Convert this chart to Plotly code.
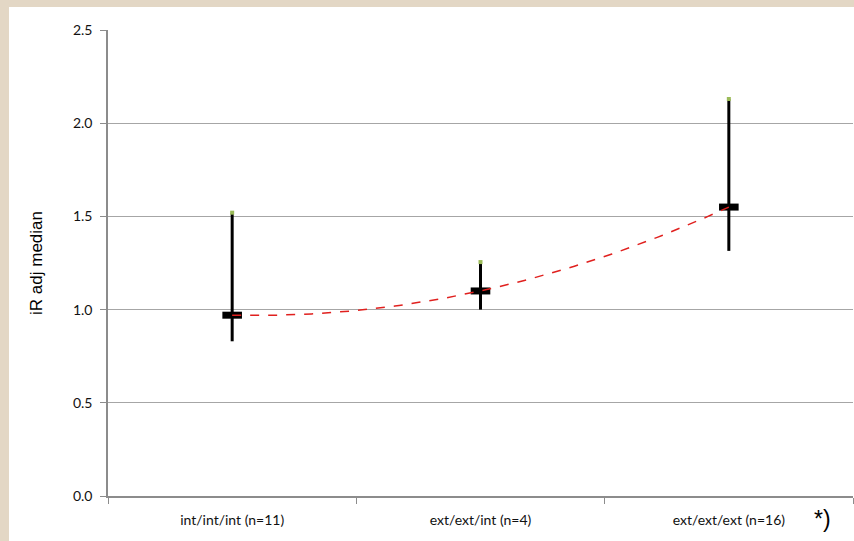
import numpy as np
import plotly.graph_objects as go

# Group medians with their ranges
groups = ["int/int/int (n=11)", "ext/ext/int (n=4)", "ext/ext/ext (n=16)"]
median = [0.97, 1.10, 1.55]
upper = [1.52, 1.255, 2.13]
lower = [0.83, 1.00, 1.315]
y_ticks = [0.0, 0.5, 1.0, 1.5, 2.0, 2.5]

pos = np.arange(len(groups))

fig = go.Figure()

# Vertical range bars
for i, g in enumerate(groups):
    fig.add_trace(go.Scatter(
        x=[g, g], y=[lower[i], upper[i]], mode="lines",
        line=dict(color="black", width=3), showlegend=False, hoverinfo="skip"))

# Small end marks at the top of each range
fig.add_trace(go.Scatter(
    x=groups, y=upper, mode="markers",
    marker=dict(symbol="square", size=4, color="#9bbb59"),
    showlegend=False, hoverinfo="skip"))

# Median markers
fig.add_trace(go.Scatter(
    x=groups, y=median, mode="markers",
    marker=dict(symbol="line-ew", size=14, color="black",
                line=dict(color="black", width=7)),
    showlegend=False, hoverinfo="skip"))

# Second-order trend through the medians
coef = np.polyfit(pos, median, 2)
xs = np.linspace(pos[0], pos[-1], 120)
fig.add_trace(go.Scatter(
    x=xs, y=np.polyval(coef, xs), mode="lines", xaxis="x2",
    line=dict(color="#e0201e", width=1.5, dash="dash"),
    showlegend=False, hoverinfo="skip"))

beige = "#e3d7c5"
L, R, T, B = 108, 1, 30, 45
W, H = 854, 541
pw, ph = W - L - R, H - T - B

def px_x(p):
    return (p - L) / pw

def px_y(p):
    return (H - B - p) / ph

fig.update_layout(
    width=W, height=H,
    margin=dict(l=L, r=R, t=T, b=B),
    paper_bgcolor="white", plot_bgcolor="white",
    font=dict(family="Lato, 'Open Sans', sans-serif", color="#262626"),
    xaxis=dict(
        type="category", categoryarray=groups, range=[-0.5, 2.5],
        showgrid=False, tickson="boundaries", ticks="outside", ticklen=6,
        tickcolor="#8c8c8c", showline=True, linecolor="#8c8c8c", linewidth=1.5,
        tickfont=dict(size=14, color="#111111"), ticklabelstandoff=10,
        zeroline=False, fixedrange=True),
    xaxis2=dict(overlaying="x", range=[-0.5, 2.5], visible=False),
    yaxis=dict(
        range=[0, 2.5], tickvals=y_ticks, ticktext=[f"{v:.1f}" for v in y_ticks],
        showgrid=True, gridcolor="#a6a6a6", gridwidth=1.2,
        ticks="outside", ticklen=6, tickcolor="#8c8c8c",
        showline=True, linecolor="#8c8c8c", linewidth=1.5, zeroline=False,
        tickfont=dict(size=14, color="#111111"), ticklabelstandoff=5,
        title=dict(text="iR adj median", standoff=26,
                   font=dict(family="'Liberation Sans', Arial, sans-serif",
                             size=17, color="black"))),
    shapes=[
        dict(type="rect", xref="paper", yref="paper",
             x0=px_x(-5), x1=px_x(9), y0=px_y(H + 5), y1=px_y(-5),
             fillcolor=beige, line=dict(width=0), layer="below"),
        dict(type="rect", xref="paper", yref="paper",
             x0=px_x(-5), x1=px_x(W + 5), y0=px_y(7), y1=px_y(-5),
             fillcolor=beige, line=dict(width=0), layer="below"),
    ],
    annotations=[dict(
        text="*)", xref="paper", yref="paper", x=px_x(822), y=px_y(519),
        xanchor="center", yanchor="middle",
        showarrow=False, font=dict(family="'Liberation Sans', Arial, sans-serif",
                                   size=23, color="black"))],
)

fig.write_html("out.html")
